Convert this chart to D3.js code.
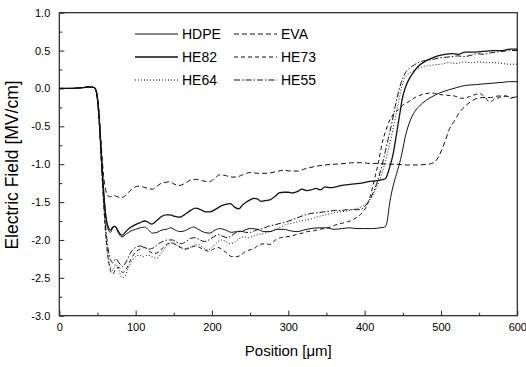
<!DOCTYPE html>
<html>
<head>
<meta charset="utf-8">
<script src="https://cdn.jsdelivr.net/npm/d3@7"></script>
<style>
  body { margin: 0; background: #fff; }
  svg text { font-family: "Liberation Sans", Arial, Helvetica, sans-serif; fill: #000; }
</style>
</head>
<body>
<svg id="chart" width="526" height="367"></svg>
<script>
// position [um], electric field [MV/cm]
var hdpe = [[0,0],[15,0],[30,0.01],[40,0.02],[46,0.01],[49,-0.06],[52,-0.35],[55,-0.85],[58,-1.35],[61,-1.7],[64,-1.86],[67,-1.9],[70,-1.84],[73,-1.82],[77,-1.9],[82,-1.96],[88,-1.92],[94,-1.88],[100,-1.86],[106,-1.84],[112,-1.83],[117,-1.87],[122,-1.91],[128,-1.9],[134,-1.87],[140,-1.86],[146,-1.84],[152,-1.87],[158,-1.89],[164,-1.88],[170,-1.85],[176,-1.83],[182,-1.86],[190,-1.9],[197,-1.91],[204,-1.87],[210,-1.85],[218,-1.87],[226,-1.9],[232,-1.89],[238,-1.89],[245,-1.86],[252,-1.85],[260,-1.86],[268,-1.89],[276,-1.89],[285,-1.86],[294,-1.86],[303,-1.88],[312,-1.89],[320,-1.87],[330,-1.85],[340,-1.84],[350,-1.84],[360,-1.86],[370,-1.85],[380,-1.84],[390,-1.85],[400,-1.85],[410,-1.85],[420,-1.84],[426,-1.83],[429,-1.78],[433,-1.5],[437,-1.3],[442,-1.12],[446,-0.98],[450,-0.8],[453,-0.65],[458,-0.47],[462,-0.37],[466,-0.3],[471,-0.24],[480,-0.16],[488,-0.11],[498,-0.06],[510,-0.02],[520,0.01],[532,0.04],[545,0.05],[556,0.06],[568,0.07],[580,0.08],[590,0.09],[600,0.09]];

var eva = [[0,0],[15,0],[30,0.01],[40,0.02],[46,0.01],[49,-0.06],[52,-0.3],[55,-0.75],[58,-1.15],[61,-1.35],[64,-1.42],[67,-1.43],[71,-1.41],[76,-1.43],[82,-1.44],[88,-1.4],[95,-1.33],[103,-1.29],[110,-1.3],[116,-1.32],[122,-1.33],[128,-1.29],[134,-1.25],[139,-1.24],[145,-1.23],[150,-1.26],[158,-1.28],[165,-1.25],[172,-1.21],[180,-1.2],[188,-1.22],[197,-1.23],[204,-1.18],[210,-1.14],[218,-1.15],[225,-1.17],[232,-1.17],[240,-1.14],[250,-1.11],[260,-1.12],[272,-1.12],[283,-1.1],[294,-1.08],[303,-1.09],[313,-1.09],[322,-1.06],[335,-1.03],[348,-1.01],[361,-1.0],[375,-0.99],[386,-0.98],[396,-0.98],[407,-0.99],[418,-0.99],[430,-1.0],[440,-1.0],[455,-1.01],[470,-1.01],[482,-1.0],[488,-0.99],[493,-0.96],[497,-0.9],[501,-0.81],[506,-0.68],[510,-0.56],[518,-0.42],[524,-0.32],[531,-0.24],[538,-0.18],[545,-0.14],[555,-0.12],[565,-0.12],[575,-0.1],[585,-0.1],[592,-0.12],[600,-0.11]];

var he82 = [[0,0],[15,0],[30,0.01],[40,0.02],[46,0.01],[49,-0.06],[52,-0.35],[55,-0.85],[58,-1.35],[61,-1.68],[64,-1.83],[67,-1.87],[70,-1.83],[73,-1.82],[77,-1.88],[82,-1.94],[88,-1.88],[94,-1.83],[99,-1.8],[106,-1.77],[112,-1.75],[117,-1.77],[121,-1.79],[128,-1.74],[134,-1.69],[140,-1.67],[145,-1.67],[152,-1.69],[158,-1.7],[165,-1.66],[172,-1.61],[178,-1.58],[185,-1.6],[192,-1.63],[197,-1.63],[204,-1.6],[212,-1.55],[218,-1.53],[224,-1.52],[230,-1.57],[235,-1.59],[240,-1.54],[245,-1.5],[250,-1.47],[255,-1.45],[260,-1.46],[264,-1.49],[270,-1.48],[276,-1.47],[282,-1.43],[288,-1.38],[294,-1.37],[300,-1.37],[306,-1.38],[312,-1.36],[318,-1.33],[324,-1.35],[330,-1.34],[336,-1.32],[342,-1.34],[348,-1.3],[355,-1.31],[362,-1.3],[370,-1.28],[378,-1.27],[386,-1.26],[396,-1.25],[405,-1.23],[414,-1.22],[420,-1.21],[425,-1.2],[428,-1.18],[431,-1.1],[434,-1.0],[437,-0.88],[441,-0.65],[444,-0.46],[447,-0.28],[449,-0.15],[453,0.0],[457,0.1],[463,0.2],[470,0.29],[478,0.35],[488,0.4],[496,0.43],[505,0.45],[515,0.46],[522,0.45],[532,0.48],[545,0.48],[556,0.49],[568,0.5],[580,0.5],[590,0.52],[600,0.52]];

var he73 = [[0,0],[15,0],[30,0.01],[40,0.02],[46,0.01],[49,-0.08],[52,-0.4],[55,-0.95],[58,-1.5],[61,-1.95],[64,-2.25],[67,-2.4],[70,-2.45],[74,-2.38],[78,-2.36],[83,-2.43],[88,-2.38],[94,-2.25],[100,-2.16],[106,-2.12],[112,-2.1],[118,-2.15],[124,-2.18],[130,-2.16],[136,-2.1],[142,-2.05],[148,-2.04],[154,-2.07],[160,-2.1],[166,-2.12],[172,-2.1],[178,-2.08],[184,-2.1],[190,-2.13],[196,-2.15],[202,-2.12],[208,-2.1],[214,-2.13],[220,-2.18],[226,-2.22],[232,-2.22],[238,-2.2],[244,-2.15],[250,-2.13],[256,-2.11],[262,-2.06],[270,-2.05],[276,-2.06],[283,-2.0],[290,-1.97],[296,-1.96],[303,-1.95],[310,-1.93],[318,-1.91],[325,-1.89],[333,-1.88],[340,-1.86],[348,-1.85],[355,-1.83],[362,-1.8],[370,-1.78],[378,-1.76],[385,-1.73],[390,-1.7],[395,-1.66],[400,-1.6],[404,-1.52],[408,-1.4],[411,-1.28],[414,-1.15],[418,-0.98],[421,-0.82],[424,-0.68],[428,-0.55],[432,-0.44],[437,-0.35],[444,-0.28],[450,-0.22],[457,-0.18],[466,-0.12],[479,-0.07],[488,-0.06],[498,-0.08],[508,-0.09],[518,-0.1],[527,-0.13],[537,-0.11],[545,-0.08],[551,-0.07],[558,-0.12],[564,-0.18],[570,-0.14],[577,-0.12],[585,-0.1],[591,-0.13],[597,-0.11],[600,-0.1]];

var he64 = [[0,0],[15,0],[30,0.01],[40,0.02],[46,0.01],[49,-0.08],[52,-0.4],[55,-0.95],[58,-1.5],[61,-1.95],[64,-2.22],[67,-2.36],[70,-2.4],[74,-2.32],[78,-2.4],[82,-2.5],[86,-2.48],[90,-2.38],[95,-2.28],[100,-2.22],[105,-2.2],[110,-2.22],[116,-2.2],[122,-2.22],[128,-2.24],[134,-2.17],[140,-2.08],[146,-2.04],[152,-2.06],[158,-2.1],[164,-2.12],[170,-2.1],[176,-2.08],[182,-2.06],[188,-2.1],[194,-2.13],[200,-2.1],[206,-2.04],[212,-2.0],[218,-2.02],[224,-2.05],[230,-2.03],[236,-1.98],[242,-1.96],[248,-1.97],[254,-1.95],[260,-1.93],[266,-1.92],[272,-1.9],[280,-1.88],[288,-1.84],[296,-1.8],[304,-1.78],[312,-1.76],[320,-1.74],[328,-1.73],[336,-1.7],[344,-1.68],[352,-1.66],[360,-1.64],[368,-1.63],[376,-1.62],[384,-1.6],[392,-1.58],[398,-1.55],[404,-1.5],[410,-1.42],[415,-1.32],[420,-1.2],[425,-1.04],[430,-0.85],[435,-0.64],[439,-0.45],[443,-0.25],[447,-0.05],[451,0.1],[455,0.17],[460,0.21],[466,0.25],[474,0.28],[482,0.3],[490,0.31],[500,0.32],[510,0.34],[520,0.33],[530,0.35],[540,0.34],[550,0.35],[560,0.34],[570,0.34],[580,0.33],[590,0.32],[600,0.32]];

var he55 = [[0,0],[15,0],[30,0.01],[40,0.02],[46,0.01],[49,-0.08],[52,-0.4],[55,-0.95],[58,-1.45],[61,-1.85],[64,-2.12],[67,-2.26],[70,-2.3],[74,-2.25],[78,-2.3],[83,-2.35],[88,-2.28],[94,-2.16],[100,-2.1],[106,-2.08],[112,-2.1],[118,-2.12],[124,-2.1],[130,-2.05],[136,-2.02],[142,-2.0],[148,-2.0],[154,-2.03],[160,-2.05],[166,-2.02],[172,-1.98],[178,-1.97],[184,-2.0],[190,-2.02],[196,-2.0],[202,-1.96],[208,-1.93],[214,-1.95],[220,-1.97],[226,-1.94],[232,-1.9],[238,-1.88],[244,-1.9],[250,-1.9],[258,-1.87],[266,-1.85],[274,-1.82],[282,-1.8],[290,-1.78],[298,-1.76],[306,-1.73],[314,-1.7],[322,-1.67],[330,-1.65],[338,-1.64],[346,-1.63],[354,-1.62],[362,-1.61],[370,-1.61],[378,-1.6],[386,-1.6],[394,-1.6],[400,-1.56],[406,-1.48],[411,-1.38],[416,-1.25],[421,-1.08],[426,-0.88],[431,-0.66],[436,-0.44],[440,-0.24],[444,-0.06],[448,0.08],[453,0.2],[458,0.26],[465,0.31],[472,0.35],[480,0.37],[488,0.38],[496,0.4],[505,0.41],[514,0.42],[522,0.43],[530,0.42],[540,0.44],[548,0.46],[556,0.45],[565,0.47],[573,0.48],[582,0.49],[590,0.5],[600,0.5]];

var seriesNames = ["HDPE", "EVA", "HE82", "HE73", "HE64", "HE55"];
var xTicks = [0, 100, 200, 300, 400, 500, 600];
var yTicks = [-3.0, -2.5, -2.0, -1.5, -1.0, -0.5, 0.0, 0.5, 1.0];

var styles = {
  HDPE: { data: hdpe, dash: null, width: 1 },
  EVA:  { data: eva,  dash: "5,3", width: 1 },
  HE82: { data: he82, dash: null, width: 1.3 },
  HE73: { data: he73, dash: "4,3", width: 1 },
  HE64: { data: he64, dash: "1,2", width: 1 },
  HE55: { data: he55, dash: "6,2,1.5,2", width: 1 }
};

var svg = d3.select("#chart");
var plotL = 59.3, plotR = 517.3, plotT = 12.7, plotB = 315.7;

var x = d3.scaleLinear().domain([0, 600]).range([plotL, plotR]);
var y = d3.scaleLinear().domain([-3, 1]).range([plotB, plotT]);

// minor ticks
svg.append("g")
    .attr("transform", "translate(0," + plotB + ")")
    .call(d3.axisBottom(x).tickValues(d3.range(50, 600, 100)).tickSize(-3).tickFormat(""))
    .call(function(g) { g.select(".domain").remove(); });
svg.append("g")
    .attr("transform", "translate(" + plotL + ",0)")
    .call(d3.axisLeft(y).tickValues(d3.range(-2.75, 1, 0.5)).tickSize(-3).tickFormat(""))
    .call(function(g) { g.select(".domain").remove(); });

// major ticks + labels
var xAxis = svg.append("g")
    .attr("transform", "translate(0," + plotB + ")")
    .call(d3.axisBottom(x).tickValues(xTicks).tickSize(-5).tickPadding(8)
      .tickFormat(function(d) { return d; }));
var yAxis = svg.append("g")
    .attr("transform", "translate(" + plotL + ",0)")
    .call(d3.axisLeft(y).tickValues(yTicks).tickSize(-5).tickPadding(9)
      .tickFormat(function(d) { return d.toFixed(1); }));

[xAxis, yAxis].forEach(function(g) {
  g.select(".domain").remove();
  g.selectAll("text").attr("font-size", 11).attr("font-family", null).attr("fill", "#000");
});
svg.selectAll(".tick line").attr("stroke", "#222").attr("stroke-width", 1);

// frame
svg.append("rect")
    .attr("x", plotL).attr("y", plotT)
    .attr("width", plotR - plotL).attr("height", plotB - plotT)
    .attr("fill", "none").attr("stroke", "#222").attr("stroke-width", 1.2);

// curves
var line = d3.line()
    .x(function(d) { return x(d[0]); })
    .y(function(d) { return y(d[1]); })
    .curve(d3.curveMonotoneX);

var plot = svg.append("g");
seriesNames.forEach(function(name) {
  var s = styles[name];
  plot.append("path")
      .datum(s.data)
      .attr("d", line)
      .attr("fill", "none")
      .attr("stroke", "#111")
      .attr("stroke-width", s.width)
      .attr("stroke-dasharray", s.dash);
});

// legend
var legend = svg.append("g");
seriesNames.forEach(function(name, i) {
  var s = styles[name];
  var col = i % 2, row = Math.floor(i / 2);
  var lx = col === 0 ? 135 : 234, ly = 34 + row * 23;
  legend.append("line")
      .attr("x1", lx).attr("x2", lx + 43)
      .attr("y1", ly).attr("y2", ly)
      .attr("stroke", "#111")
      .attr("stroke-width", s.width)
      .attr("stroke-dasharray", s.dash);
  legend.append("text")
      .attr("x", lx + 47).attr("y", ly + 5)
      .attr("font-size", 14)
      .text(name);
});

// axis titles
svg.append("text")
    .attr("x", (plotL + plotR) / 2).attr("y", 356)
    .attr("text-anchor", "middle")
    .attr("font-size", 15)
    .text("Position [\u03bcm]");

svg.append("text")
    .attr("transform", "translate(18,165) rotate(-90)")
    .attr("text-anchor", "middle")
    .attr("font-size", 17.5)
    .text("Electric Field [MV/cm]");
</script>
</body>
</html>
